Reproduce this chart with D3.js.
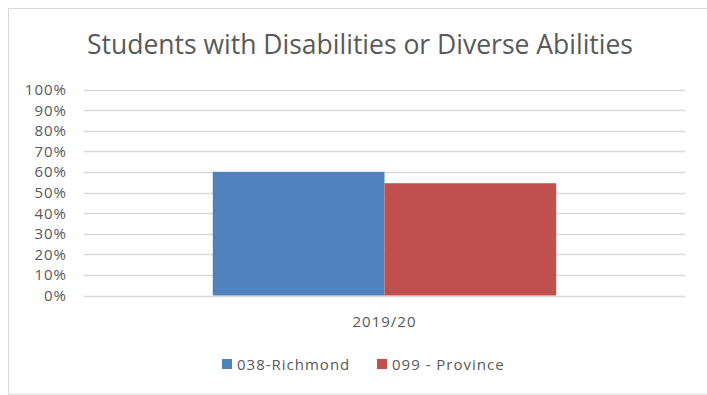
<!DOCTYPE html>
<html>
<head>
<style>
  body{margin:0;background:#fff}
  svg text{font-family:"Open Sans", Lato, sans-serif;fill:#595959;font-variant-ligatures:none}
</style>
</head>
<body>
<div id="chart"></div>
<script src="https://cdn.jsdelivr.net/npm/d3@7"></script>
<script>

var categories = ['2019/20'];
var seriesNames = ['038-Richmond', '099 - Province'];
var seriesColors = ['#4f81bd', '#c0504d'];
var values = [[0.60, 0.545]];   // per category, per series
var yTicks = [0, 0.1, 0.2, 0.3, 0.4, 0.5, 0.6, 0.7, 0.8, 0.9, 1.0];

var
  width   = 707,
  height  = 395,
  plotL   = 84,
  plotR   = 685,
  plotT   = 89.5,
  plotB   = 295.5;

var svg = d3.select('#chart').append('svg')
  .attr('width', width)
  .attr('height', height);

// chart border
svg.append('rect')
  .attr('x', 8.5)
  .attr('y', 8.5)
  .attr('width', 720)
  .attr('height', 385.5)
  .attr('fill', '#fff')
  .attr('stroke', '#d9d9d9');

svg.append('text')
  .text('Students with Disabilities or Diverse Abilities')
  .attr('x', 360)
  .attr('y', 54)
  .attr('text-anchor', 'middle')
  .style('font-size', '26.5px');

var x = d3.scaleBand()
  .domain(categories)
  .range([plotL, plotR]);

var xInner = d3.scaleBand()
  .domain(seriesNames)
  .range([0, x.bandwidth()])
  .paddingOuter(0.75);

var y = d3.scaleLinear()
  .domain([0, 1])
  .range([plotB, plotT]);

// gridlines
svg.append('g')
  .selectAll('line')
  .data(yTicks)
  .join('line')
  .attr('x1', plotL)
  .attr('x2', plotR)
  .attr('y1', function (d) { return Math.round(y(d)) + 0.5; })
  .attr('y2', function (d) { return Math.round(y(d)) + 0.5; })
  .attr('stroke', '#d9d9d9')
  .attr('stroke-width', 1.5);

// y labels
svg.append('g')
  .selectAll('text')
  .data(yTicks)
  .join('text')
  .text(d3.format('.0%'))
  .attr('x', 67)
  .attr('y', function (d) { return y(d) + 5.5; })
  .attr('text-anchor', 'end')
  .style('font-size', '15px')
  .style('letter-spacing', '1px');

// bars
var groups = svg.append('g')
  .selectAll('g')
  .data(categories)
  .join('g')
  .attr('transform', function (d) { return 'translate(' + x(d) + ',0)'; });

groups.selectAll('rect')
  .data(function (d, i) { return values[i].map(function (v, j) { return {name: seriesNames[j], v: v, c: seriesColors[j]}; }); })
  .join('rect')
  .attr('x', function (d) { return xInner(d.name); })
  .attr('width', xInner.bandwidth())
  .attr('y', function (d) { return y(d.v); })
  .attr('height', function (d) { return plotB - y(d.v); })
  .attr('fill', function (d) { return d.c; });

// category labels
svg.append('g')
  .selectAll('text')
  .data(categories)
  .join('text')
  .text(function (d) { return d; })
  .attr('x', function (d) { return x(d) + x.bandwidth() / 2; })
  .attr('y', 327)
  .attr('text-anchor', 'middle')
  .style('font-size', '15px')
  .style('letter-spacing', '1px');

// legend
var legendX = [222, 377];
var legend = svg.append('g')
  .selectAll('g')
  .data(seriesNames)
  .join('g')
  .attr('transform', function (d, i) { return 'translate(' + legendX[i] + ',359)'; });

legend.append('rect')
  .attr('width', 10)
  .attr('height', 10)
  .attr('fill', function (d, i) { return seriesColors[i]; });

legend.append('text')
  .text(function (d) { return d; })
  .attr('x', 15)
  .attr('y', 10.5)
  .style('font-size', '15px')
  .style('letter-spacing', '1px');

</script>
</body>
</html>
